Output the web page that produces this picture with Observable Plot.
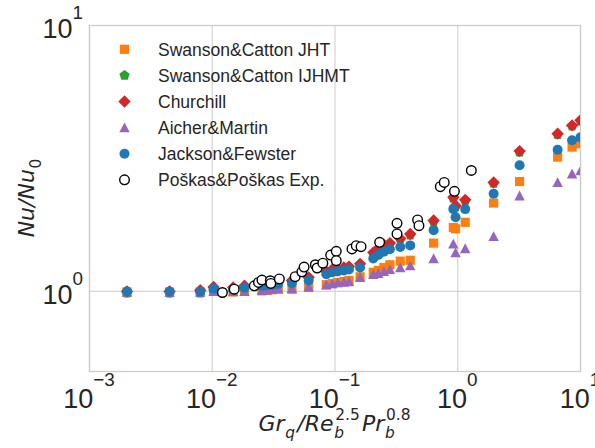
<!DOCTYPE html>
<html><head><meta charset="utf-8">
<script src="https://cdn.jsdelivr.net/npm/d3@7"></script>
<script src="https://cdn.jsdelivr.net/npm/@observablehq/plot@0.6"></script>
<style>body{margin:0;background:#fff}#chart{width:595px;height:448px}</style>
</head><body><div id="chart"></div>
<script>
// ---- data ----
const modelX = [0.00202,0.00449,0.00798,0.01025,0.0148,0.0183,0.0254,0.028,0.031,0.0345,0.0446,0.061,0.085,0.095,0.105,0.118,0.13,0.16,0.205,0.225,0.25,0.28,0.34,0.41,0.636,0.92,0.96,1.15,1.96,3.19,6.51,8.54,10.0];
const swansonJHT   = [0.995,0.995,0.995,1.0,0.995,1.0,1.005,1.01,1.015,1.02,1.02,1.035,1.06,1.07,1.08,1.09,1.10,1.135,1.18,1.20,1.23,1.26,1.30,1.31,1.52,1.74,1.72,1.82,2.15,2.59,3.20,3.49,3.59];
const swansonIJHMT = [0.985,0.985,0.985,1.0,1.0,1.02,1.05,1.06,1.065,1.07,1.09,1.11,1.18,1.20,1.21,1.22,1.23,1.26,1.39,1.44,1.49,1.51,1.57,1.63,1.83,2.24,2.08,2.19,2.55,3.34,3.89,4.18,4.37];
const churchill    = [1.0,1.0,1.01,1.04,1.035,1.05,1.07,1.075,1.08,1.09,1.10,1.13,1.19,1.21,1.22,1.23,1.24,1.27,1.40,1.45,1.50,1.52,1.58,1.645,1.85,2.26,2.10,2.21,2.57,3.37,3.92,4.21,4.40];
const aicherMartin = [0.995,0.995,0.995,1.0,1.0,1.0,1.01,1.015,1.02,1.025,1.025,1.04,1.06,1.07,1.08,1.085,1.09,1.13,1.16,1.17,1.19,1.21,1.23,1.25,1.33,1.51,1.40,1.45,1.61,2.29,2.57,2.77,2.85];
const jacksonFewster = [1.0,1.0,1.0,1.025,1.02,1.035,1.05,1.055,1.06,1.07,1.075,1.10,1.16,1.18,1.19,1.20,1.21,1.23,1.33,1.37,1.41,1.44,1.47,1.49,1.70,2.04,1.90,2.04,2.33,2.98,3.41,3.70,3.80];
const expX = [0.0121,0.0151,0.0220,0.0238,0.0254,0.0297,0.0300,0.0352,0.0474,0.0537,0.0560,0.0692,0.0715,0.0796,0.0922,0.1024,0.1024,0.1375,0.149,0.163,0.231,0.32,0.32,0.471,0.483,0.721,0.776,0.94,1.29];
const expY = [0.991,1.02,1.05,1.081,1.104,1.097,1.072,1.114,1.136,1.185,1.235,1.26,1.225,1.277,1.37,1.415,1.305,1.445,1.486,1.473,1.53,1.803,1.645,1.858,1.768,2.478,2.57,2.38,2.85];
const seriesNames = ["Swanson&Catton JHT","Swanson&Catton IJHMT","Churchill","Aicher&Martin","Jackson&Fewster","Poškas&Poškas Exp."];
const xTicks = [1e-3,1e-2,1e-1,1,10];
const xTickExp = ["\u22123","\u22122","\u22121","0","1"];
const yTicks = [1,10];
const yTickExp = ["0","1"];

// ---- symbols ----
const rad = s => Math.sqrt(s/Math.PI);
const symSquare = {draw(c,s){const r=rad(s);c.moveTo(-r,-r);c.lineTo(r,-r);c.lineTo(r,r);c.lineTo(-r,r);c.closePath();}};
const symDiamond = {draw(c,s){const r=rad(s);c.moveTo(0,-r);c.lineTo(r,0);c.lineTo(0,r);c.lineTo(-r,0);c.closePath();}};
const symTriangle = {draw(c,s){const r=rad(s);c.moveTo(0,-r);c.lineTo(r,r*0.9);c.lineTo(-r,r*0.9);c.closePath();}};
const symPentagon = {draw(c,s){const r=rad(s);for(let i=0;i<5;i++){const a=-Math.PI/2+i*2*Math.PI/5;const px=r*Math.cos(a),py=r*Math.sin(a);if(i===0)c.moveTo(px,py);else c.lineTo(px,py);}c.closePath();}};
const symCircle = d3.symbolCircle;

const styles = [
  {sym: symSquare, r: 4.6, fill: "#ff7f0e"},
  {sym: symPentagon, r: 5.4, fill: "#2ca02c"},
  {sym: symDiamond, r: 6.2, fill: "#d62728"},
  {sym: symTriangle, r: 5.2, fill: "#9467bd"},
  {sym: symCircle, r: 5.0, fill: "#1f77b4"},
  {sym: symCircle, r: 4.8, fill: "white", stroke: "black", strokeWidth: 1.4}
];
const seriesY = [swansonJHT, swansonIJHMT, churchill, aicherMartin, jacksonFewster];
const rows = (xs, ys) => xs.map((x,i)=>({x, y: ys[i]}));

const W=595,H=448, mL=89, mR=15, mT=25, mB=77;
const marks = [
  Plot.gridX(xTicks, {stroke:"#d4d4d4", strokeOpacity:1, strokeWidth:1.2}),
  Plot.gridY(yTicks, {stroke:"#d4d4d4", strokeOpacity:1, strokeWidth:1.2}),
  Plot.frame({stroke:"#cccccc", strokeWidth:1.3})
];
seriesY.forEach((ys,k)=>{
  const st = styles[k];
  marks.push(Plot.dot(rows(modelX, ys), {x:"x", y:"y", symbol: st.sym, r: st.r, fill: st.fill, stroke: "none", clip: true}));
});
marks.push(Plot.dot(rows(expX, expY), {x:"x", y:"y", symbol: "circle", r: styles[5].r, fill: "white", stroke: "black", strokeWidth: styles[5].strokeWidth, clip: true}));

const chart = Plot.plot({
  width: W, height: H, marginLeft: mL, marginRight: mR, marginTop: mT, marginBottom: mB,
  x: {type: "log", domain: [1e-3, 10], axis: null},
  y: {type: "log", domain: [0.5, 10], axis: null},
  style: {background: "white"},
  marks
});
document.getElementById("chart").appendChild(chart);

const svg = d3.select(chart);
const xs = chart.scale("x"), ys = chart.scale("y");
const TXT = "#262626";
const SANS = "'Liberation Sans', Arial, sans-serif";
const MATH = "'DejaVu Sans', sans-serif";

function rich(parent, pieces, fs, family) {
  const g = parent.append("g").attr("fill", TXT).attr("font-family", family).attr("text-anchor", "start");
  let x = 0, lastStart = 0, lastW = 0;
  for (const p of pieces) {
    x += (p.pre || 0) * fs;
    const t = g.append("text").attr("y", (p.dy||0)*fs).attr("font-size", fs*(p.s||1))
      .attr("text-anchor", "start")
      .attr("font-style", p.it ? "italic" : "normal").text(p.t);
    const w = t.node().getComputedTextLength();
    if (p.stack) { t.attr("x", lastStart + (p.sx||0)*fs); x = lastStart + Math.max(lastW, w + (p.sx||0)*fs); }
    else { t.attr("x", x); lastStart = x; lastW = w; x += w; }
    x += (p.post || 0) * fs;
  }
  return {g, width: x};
}

// x tick labels
const TFS = 27;
xTicks.forEach((v,i)=>{
  const r = rich(svg, [{t:"10"},{t:xTickExp[i], s:0.7, dy:-0.8}], TFS, SANS);
  r.g.attr("transform", `translate(${xs.apply(v) - r.width/2},408)`);
});
// y tick labels
yTicks.forEach((v,i)=>{
  const r = rich(svg, [{t:"10"},{t:yTickExp[i], s:0.7, dy:-0.72}], TFS, SANS);
  r.g.attr("transform", `translate(${83 - r.width},${ys.apply(v) + 13})`);
});

// axis labels
const LFS = 22;
const xl = rich(svg, [
  {t:"Gr",it:1},{t:"q",it:1,s:0.7,dy:0.3,pre:0.03,post:0.1},
  {t:"/Re",it:1},{t:"b",it:1,s:0.7,dy:0.3,pre:0.03},{t:"2.5",s:0.7,dy:-0.5,stack:1,sx:0.05,post:0.1},
  {t:"Pr",it:1},{t:"b",it:1,s:0.7,dy:0.3,pre:0.03},{t:"0.8",s:0.7,dy:-0.5,stack:1,sx:0.05}
], LFS, MATH);
xl.g.attr("transform", `translate(${(mL + W - mR)/2 - xl.width/2},431)`);
const yl = rich(svg, [{t:"Nu/Nu",it:1},{t:"0",s:0.7,dy:0.3,pre:0.03}], LFS, MATH);
yl.g.attr("transform", `translate(34,${(mT + H - mB)/2 + yl.width/2}) rotate(-90)`);

// legend
const lg = svg.append("g");
seriesNames.forEach((name,k)=>{
  const st = styles[k];
  const cy = 49.3 + k*26.1;
  lg.append("path").attr("d", d3.symbol(st.sym, Math.PI*st.r*st.r)())
    .attr("transform", `translate(124.5,${cy})`)
    .attr("fill", st.fill).attr("stroke", st.stroke || "none").attr("stroke-width", st.strokeWidth || 0);
  lg.append("text").attr("x", 158).attr("y", cy).attr("dy", "0.36em").attr("text-anchor", "start")
    .attr("font-family", SANS).attr("font-size", 17.5).attr("fill", TXT).text(name);
});
</script></body></html>
